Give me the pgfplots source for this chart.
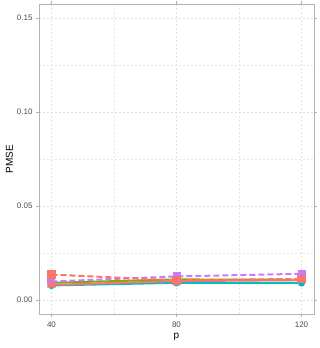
\documentclass[border=0pt]{standalone}
\usepackage{pgfplots}
\pgfplotsset{compat=1.18}
\usepackage{fontspec}
\setmainfont{Liberation Sans}
\definecolor{cred}{HTML}{F8766D}
\definecolor{colive}{HTML}{7CAE00}
\definecolor{cteal}{HTML}{00BFC4}
\definecolor{cpurple}{HTML}{C77CFF}
\definecolor{tickcol}{HTML}{4D4D4D}
\definecolor{gridcol}{HTML}{E0E0E0}
\definecolor{bordercol}{HTML}{B3B3B3}
\begin{document}
\begin{tikzpicture}
\path[use as bounding box] (-39pt,-34pt) rectangle (280pt,314pt);
\begin{axis}[
  at={(0,0)}, anchor=south west,
  scale only axis,
  width=275pt, height=310pt,
  xmin=36, xmax=124,
  ymin=-0.0075, ymax=0.1575,
  xtick={40,80,120},
  ytick={0,0.05,0.10,0.15},
  yticklabels={0.00,0.05,0.10,0.15},
  minor xtick={60,100},
  minor ytick={0.025,0.075,0.125},
  grid=both,
  major grid style={gridcol, dash pattern=on 2pt off 2pt, line width=0.5pt},
  minor grid style={gridcol!80, dash pattern=on 2pt off 2pt, line width=0.4pt},
  axis line style={bordercol, line width=0.9pt},
  tick style={bordercol, line width=0.5pt},
  tick align=outside,
  major tick length=3pt,
  minor tick length=0pt,
  tick label style={font=\fontsize{8}{9}\selectfont, text=tickcol},
  /pgf/number format/assume math mode=true,
  xticklabel style={yshift=-1pt},
  xlabel={p},
  ylabel={PMSE},
  label style={font=\fontsize{10}{11}\selectfont},
  xlabel style={yshift=1pt},
  ylabel style={yshift=-3pt},
  clip=false,
]
\addplot[cteal, line width=2pt, mark=*, mark size=2.6pt, mark options={solid}] coordinates {(40,0.0077) (80,0.0091) (120,0.0090)};
\addplot[colive, line width=2pt, mark=triangle*, mark size=3.2pt, mark options={solid}] coordinates {(40,0.0091) (80,0.0109) (120,0.0107)};
\addplot[cpurple, line width=2pt, dash pattern=on 6pt off 3pt, mark=square*, mark size=3pt, mark options={solid}] coordinates {(40,0.0098) (80,0.0125) (120,0.0139)};
\addplot[cred, line width=2pt, mark=triangle*, mark size=3.4pt, mark options={solid}] coordinates {(40,0.0080) (80,0.0100) (120,0.0105)};
\addplot[cred, line width=2pt, dash pattern=on 6pt off 3pt, mark=square*, mark size=3.2pt, mark options={solid}] coordinates {(40,0.0135) (80,0.0104) (120,0.0112)};
\end{axis}
\end{tikzpicture}
\end{document}
